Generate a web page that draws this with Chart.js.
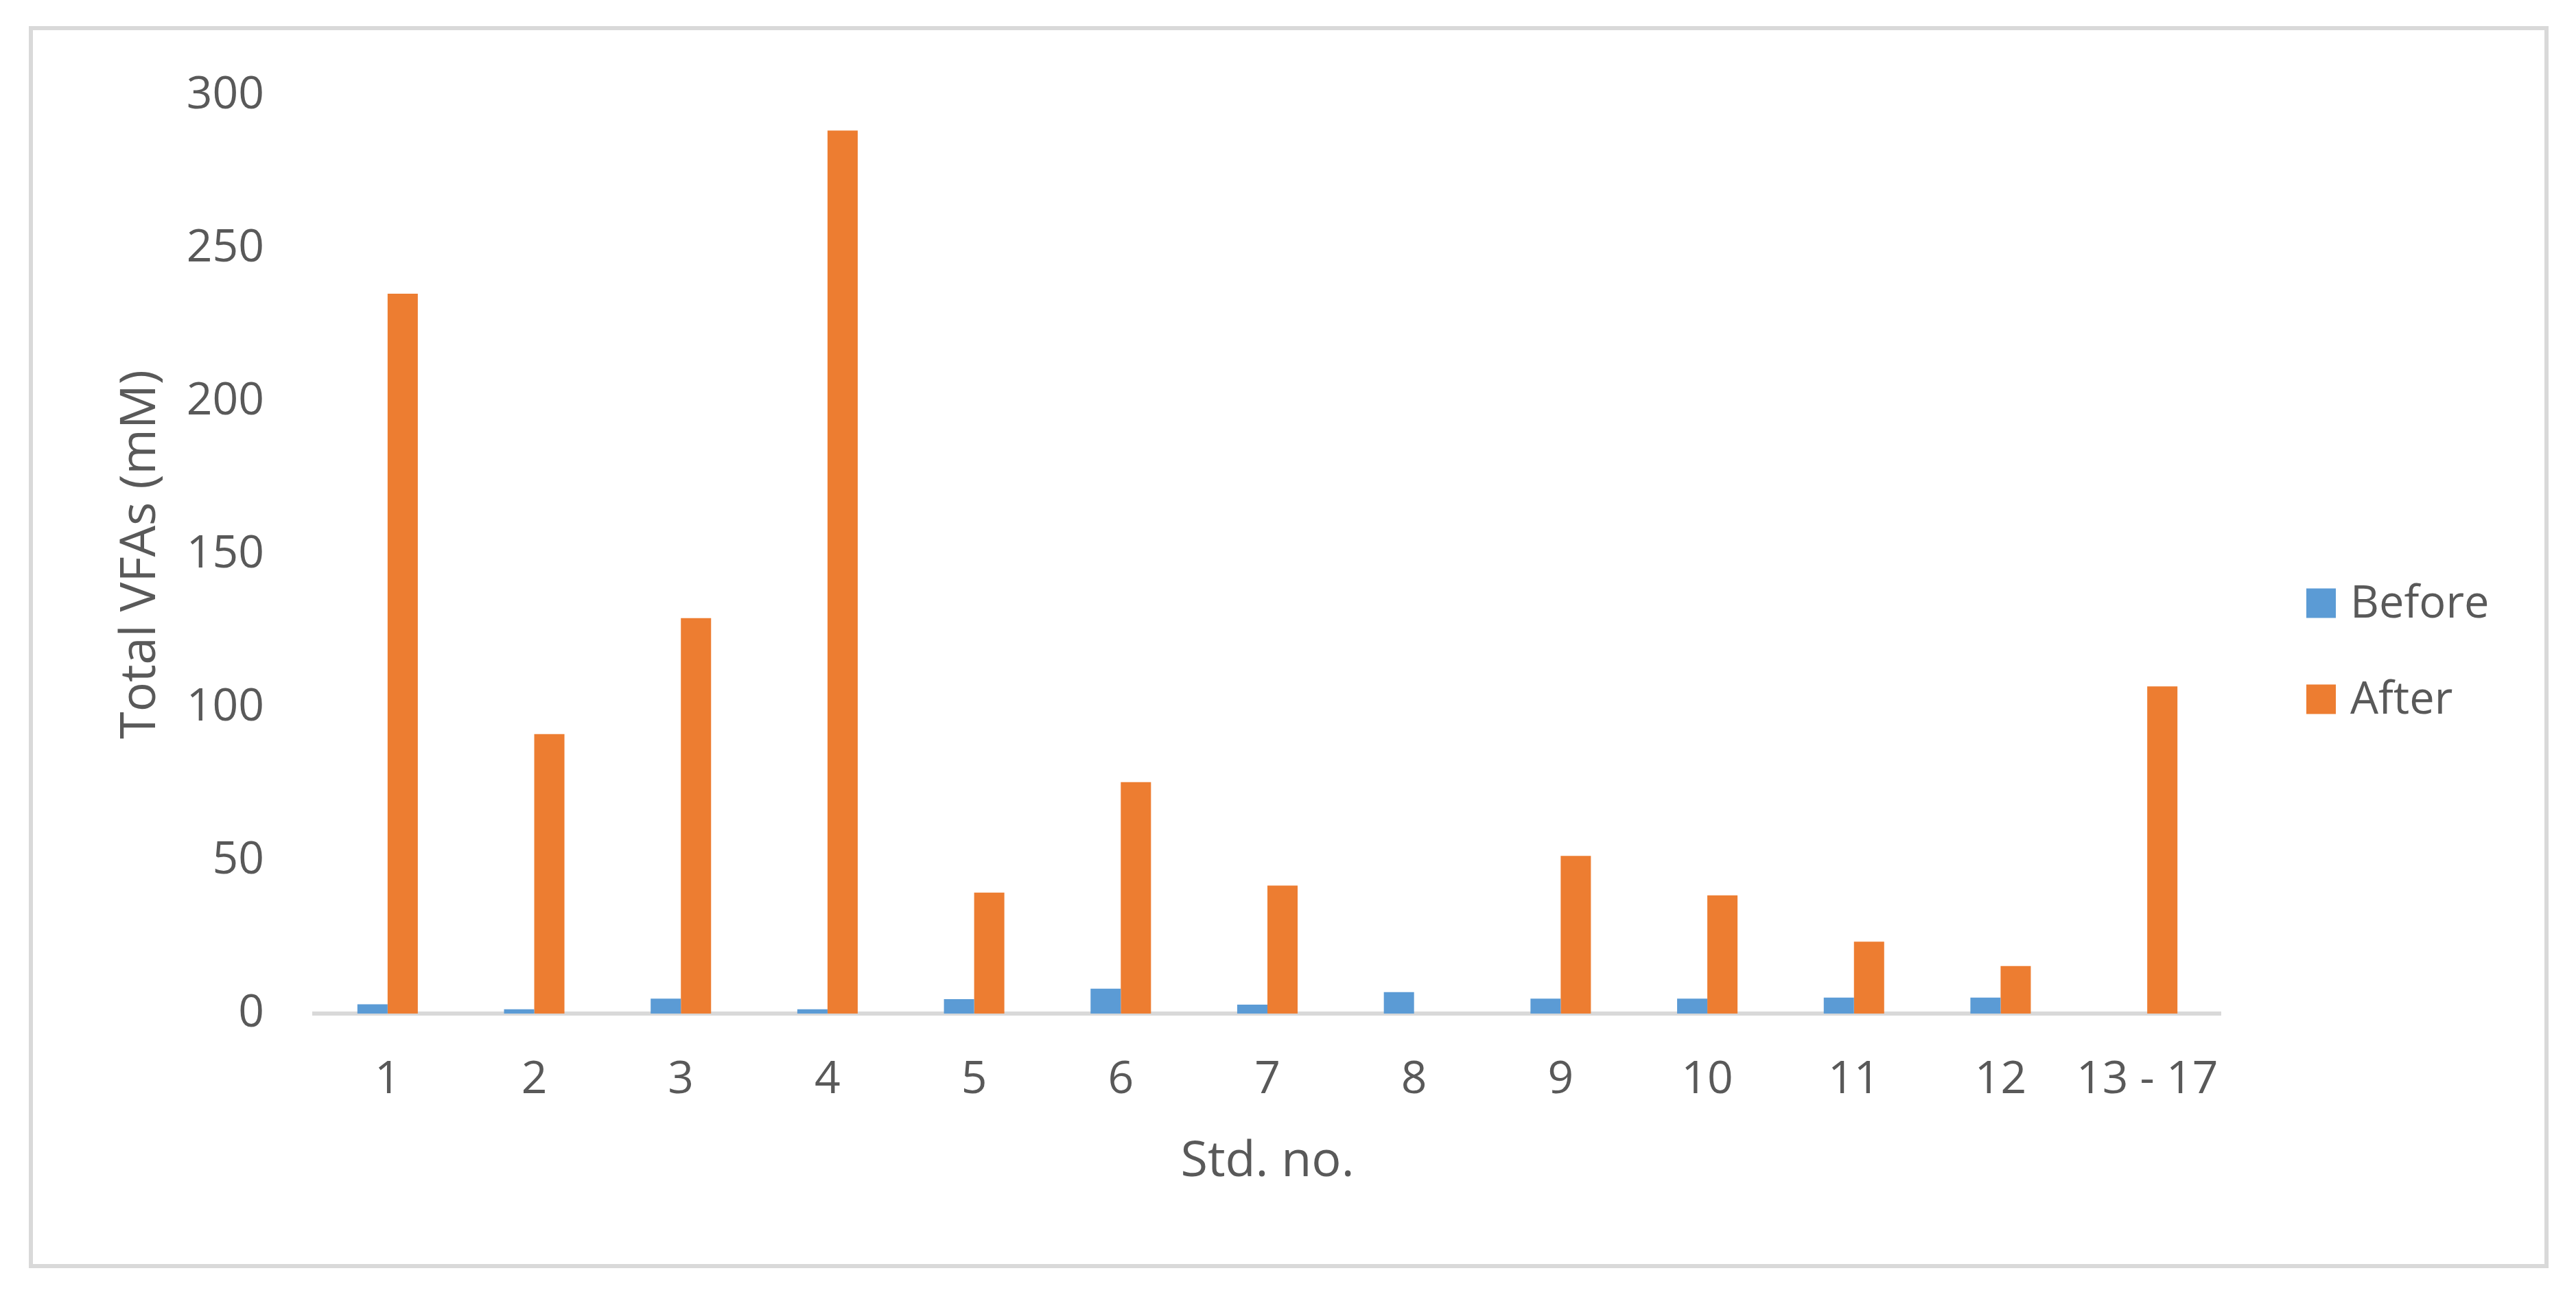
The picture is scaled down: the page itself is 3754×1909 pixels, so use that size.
<!DOCTYPE html>
<html>
<head>
<meta charset="utf-8">
<script src="https://cdn.jsdelivr.net/npm/chart.js@4"></script>
<style>
  html, body { margin: 0; padding: 0; background: #ffffff; }
  body { width: 3754px; height: 1909px; position: relative; overflow: hidden; }
  #frame {
    position: absolute; left: 42px; top: 38px; width: 3672px; height: 1810px;
    border: 6px solid #d9d9d9; box-sizing: border-box;
  }
  #chart { position: absolute; left: 0; top: 0; }
</style>
</head>
<body>
<div id="frame"></div>
<canvas id="chart" width="3754" height="1909"></canvas>
<script>
// データ
const stdLabels = ["1", "2", "3", "4", "5", "6", "7", "8", "9", "10", "11", "12", "13 - 17"];
const beforeValues = [3.0, 1.4, 4.9, 1.4, 4.7, 8.1, 2.9, 7.0, 4.9, 4.9, 5.2, 5.2, 0];
const afterValues = [235.2, 91.3, 129.2, 288.5, 39.5, 75.6, 41.8, 0, 51.5, 38.6, 23.5, 15.5, 106.9];
const yTicks = [0, 50, 100, 150, 200, 250, 300];

const textColor = "#595959";
const fontFamily = "'Open Sans', 'Noto Sans', sans-serif";

// 右側の凡例（Excel風）
const sideLegend = {
  id: "sideLegend",
  afterDraw(chart) {
    const ctx = chart.ctx;
    const box = 43;
    const x = 3361;
    const centers = [879, 1019];
    ctx.save();
    ctx.font = "65px " + fontFamily;
    ctx.textBaseline = "middle";
    ctx.textAlign = "left";
    chart.data.datasets.forEach((ds, i) => {
      const cy = centers[i];
      ctx.fillStyle = ds.backgroundColor;
      ctx.fillRect(x, cy - box / 2, box, box);
      ctx.fillStyle = textColor;
      ctx.fillText(ds.label, x + 64, cy + 2);
    });
    ctx.restore();
  },
};

new Chart(document.getElementById("chart"), {
  type: "bar",
  data: {
    labels: stdLabels,
    datasets: [
      {
        label: "Before",
        data: beforeValues,
        backgroundColor: "#5b9bd5",
        categoryPercentage: 0.412,
        barPercentage: 1.0,
      },
      {
        label: "After",
        data: afterValues,
        backgroundColor: "#ed7d31",
        categoryPercentage: 0.412,
        barPercentage: 1.0,
      },
    ],
  },
  options: {
    responsive: false,
    animation: false,
    layout: {
      padding: { left: 0, right: 518, top: 139, bottom: 0 },
    },
    plugins: {
      legend: { display: false },
      tooltip: { enabled: false },
    },
    scales: {
      x: {
        grid: { display: false, drawTicks: false },
        border: { display: true, color: "#d9d9d9", width: 6 },
        ticks: {
          color: textColor,
          font: { family: fontFamily, size: 66 },
          padding: 58,
          maxRotation: 0,
          autoSkip: false,
        },
        title: {
          display: true,
          text: "Std. no.",
          color: textColor,
          font: { family: fontFamily, size: 72 },
          padding: { top: 0, bottom: 172 },
        },
        afterFit: (s) => { s.height = 432; },
      },
      y: {
        min: 0,
        max: 300,
        grid: { display: false, drawTicks: false },
        border: { display: false },
        afterBuildTicks: (s) => { s.ticks = yTicks.map((v) => ({ value: v })); },
        ticks: {
          color: textColor,
          font: { family: fontFamily, size: 66 },
          padding: 73,
        },
        title: {
          display: true,
          text: "Total VFAs (mM)",
          color: textColor,
          font: { family: fontFamily, size: 72 },
          padding: { top: 162, bottom: 0 },
        },
        afterFit: (s) => { s.width = 458; },
      },
    },
  },
  plugins: [sideLegend],
});
</script>
</body>
</html>
